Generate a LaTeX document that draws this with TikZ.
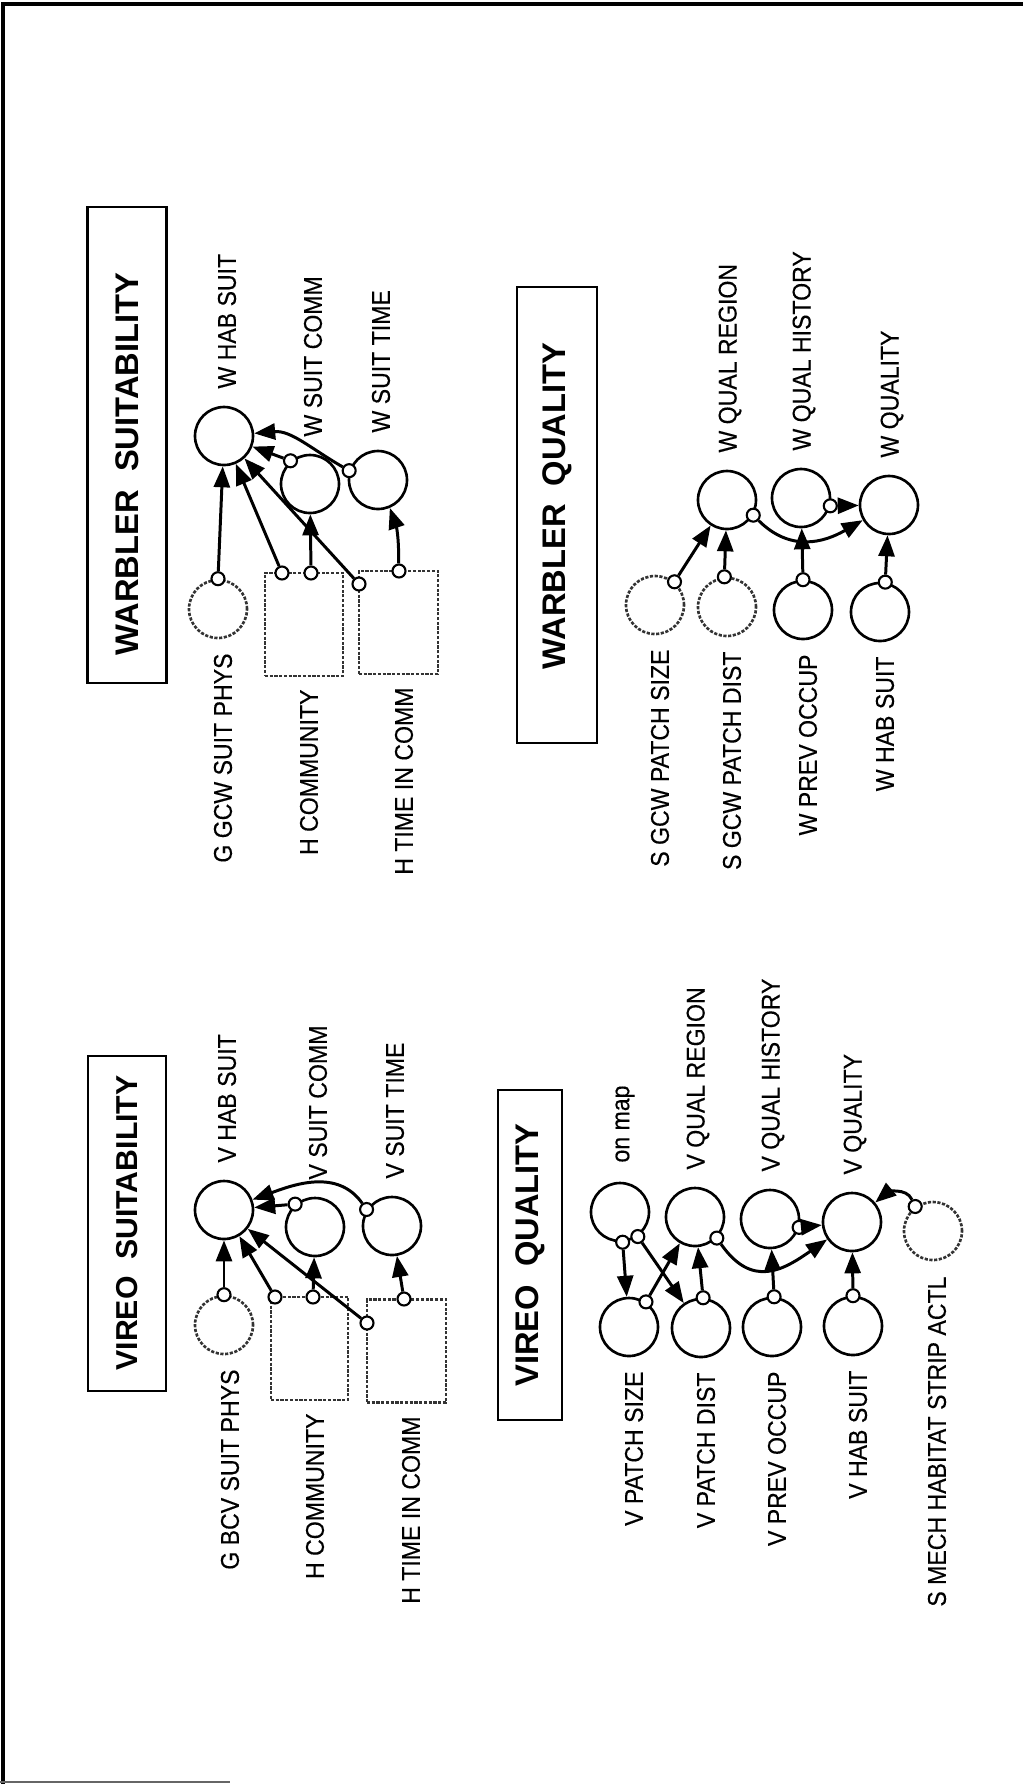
\documentclass[tikz,border=0pt]{standalone}
\usepackage{fontspec}
\setmainfont{Liberation Sans}
\newfontfamily\lblfont{Liberation Sans}[FakeStretch=0.9, FakeBold=0.3]
\usetikzlibrary{arrows.meta}

\begin{document}
\begin{tikzpicture}[
  x=0.1mm, y=-0.1mm,
  every node/.style={inner sep=0pt},
  ttlbox/.style={draw, line width=0.8pt, rotate=90},
  ttltext/.style={rotate=90, font=\bfseries\fontsize{9.3}{11}\selectfont},
  lbl/.style={rotate=90, font=\lblfont\fontsize{7.3}{8}\selectfont},
  var/.style={circle, draw, line width=0.75pt, minimum size=5.8mm},
  inp/.style={var, draw=black!80, dash pattern=on 0.9pt off 0.45pt},
  hbox/.style={draw=black!80, dash pattern=on 0.9pt off 0.45pt, line width=0.7pt, minimum width=7.8mm, minimum height=10.3mm},
  port/.style={circle, draw, fill=white, line width=0.6pt, minimum size=1.3mm},
  >={Triangle[length=2.1mm,width=1.6mm]}, line width=0.85pt
]
\useasboundingbox (0,0) rectangle (1023,1784);

% page frame
\draw[line width=1pt] (3,1784) -- (3,4) -- (1023,4);
\draw[black!60, line width=0.8pt] (0,1782) -- (230,1782);

% warbler suitability
\node[ttlbox, minimum width=47.6mm, minimum height=7.9mm] (ttl_ws) at (127,445) {};
\node[ttltext] (ttl_ws_t) at (127,464) {WARBLER~~SUITABILITY};
\node[var] (whs) at (224,436) {};
\node[var] (wsc) at (310,484) {};
\node[var] (wst) at (378,480) {};
\node[inp] (ggcw) at (218,609) {};
\node[hbox] (hcw) at (304,624.5) {};
\node[hbox, minimum width=7.9mm] (htw) at (398.5,622.5) {};

\node[lbl, anchor=west] (l_whs) at (227,390) {W HAB SUIT};
\node[lbl, anchor=west] (l_wsc) at (313,438) {W SUIT COMM};
\node[lbl, anchor=west] (l_wst) at (381,434) {W SUIT TIME};
\node[lbl, anchor=east] (l_ggcw) at (223,652) {G GCW SUIT PHYS};
\node[lbl, anchor=east] (l_hcw) at (309,688) {H COMMUNITY};
\node[lbl, anchor=east] (l_htw) at (404,686) {H TIME IN COMM};

\node[port] (p_ggcw) at (ggcw.90) {};
\node[port] (p_hcw1) at (282,573) {};
\node[port] (p_hcw2) at (311,573) {};
\node[port] (p_htw1) at (359,584) {};
\node[port] (p_htw2) at (399,571) {};
\node[port] (p_wsc) at (wsc.130) {};
\node[port] (p_wst) at (wst.162) {};

\draw[->] (p_ggcw) -- (whs);
\draw[->] (p_hcw1) -- (whs);
\draw[->] (p_htw1) -- (whs);
\draw[->] (p_hcw2) -- (wsc);
\draw[->] (p_htw2) to[bend right=10] (wst);
\draw[->] (p_wsc) -- (whs);
\draw[->] (p_wst) to[out=150, in=5] (whs);

% vireo suitability
\node[ttlbox, minimum width=33.5mm, minimum height=7.8mm] (ttl_vs) at (127,1223.5) {};
\node[ttltext, font=\bfseries\fontsize{8.6}{10}\selectfont] (ttl_vs_t) at (127,1223) {VIREO~~SUITABILITY};
\node[var] (vhs) at (224,1210) {};
\node[var] (vsc) at (315,1227) {};
\node[var] (vst) at (392,1226) {};
\node[inp] (gbcv) at (224,1325) {};
\node[hbox, minimum width=7.7mm] (hcv) at (309.5,1348.5) {};
\node[hbox, minimum width=7.9mm] (htv) at (406.5,1351) {};

\node[lbl, anchor=west] (l_vhs) at (227,1164) {V HAB SUIT};
\node[lbl, anchor=west] (l_vsc) at (318,1181) {V SUIT COMM};
\node[lbl, anchor=west] (l_vst) at (395,1180) {V SUIT TIME};
\node[lbl, anchor=east] (l_gbcv) at (230,1368) {G BCV SUIT PHYS};
\node[lbl, anchor=east] (l_hcv) at (315,1412) {H COMMUNITY};
\node[lbl, anchor=east] (l_htv) at (411,1415) {H TIME IN COMM};

\node[port] (p_gbcv) at (gbcv.90) {};
\node[port] (p_hcv1) at (275,1297) {};
\node[port] (p_hcv2) at (313,1297) {};
\node[port] (p_htv1) at (367,1323) {};
\node[port] (p_htv2) at (404,1299) {};
\node[port] (p_vsc) at (vsc.131) {};
\node[port] (p_vst) at (vst.147) {};

\draw[->] (p_gbcv) -- (vhs);
\draw[->] (p_hcv1) -- (vhs);
\draw[->] (p_htv1) -- (vhs);
\draw[->] (p_hcv2) -- (vsc);
\draw[->] (p_htv2) -- (vst);
\draw[->] (p_vsc) -- (vhs);
\draw[->] (p_vst) to[out=125, in=20] (vhs);

% warbler quality
\node[ttlbox, minimum width=45.6mm, minimum height=8mm] (ttl_wq) at (557,515) {};
\node[ttltext] (ttl_wq_t) at (557,506) {WARBLER~~QUALITY};
\node[var] (wqr) at (727,500) {};
\node[var] (wqh) at (801,498) {};
\node[var] (wq) at (889,505) {};
\node[inp] (sgps) at (655,605) {};
\node[inp] (sgpd) at (727,607) {};
\node[var] (wpo) at (803,610) {};
\node[var] (whsq) at (880,612) {};

\node[lbl, anchor=west] (l_wqr) at (730,454) {W QUAL REGION};
\node[lbl, anchor=west] (l_wqh) at (804,452) {W QUAL HISTORY};
\node[lbl, anchor=west] (l_wq) at (892,459) {W QUALITY};
\node[lbl, anchor=east] (l_sgps) at (660,648) {S GCW PATCH SIZE};
\node[lbl, anchor=east] (l_sgpd) at (732,650) {S GCW PATCH DIST};
\node[lbl, anchor=east] (l_wpo) at (808,653) {W PREV OCCUP};
\node[lbl, anchor=east] (l_whsq) at (885,655) {W HAB SUIT};

\node[port] (p_sgps) at (sgps.50) {};
\node[port] (p_sgpd) at (sgpd.95) {};
\node[port] (p_wpo) at (wpo.90) {};
\node[port] (p_whsq) at (whsq.80) {};
\node[port] (p_wqr) at (wqr.-30) {};
\node[port] (p_wqh) at (wqh.-15) {};

\draw[->] (p_sgps) -- (wqr);
\draw[->] (p_sgpd) -- (wqr);
\draw[->] (p_wpo) -- (wqh);
\draw[->] (p_whsq) -- (wq);
\draw[->] (p_wqh) -- (wq);
\draw[->] (p_wqr) to[out=-45, in=210, looseness=1.1] (wq);

% vireo quality
\node[ttlbox, minimum width=33mm, minimum height=6.4mm] (ttl_vq) at (530,1255) {};
\node[ttltext] (ttl_vq_t) at (530,1255) {VIREO~~QUALITY};
\node[var] (onmap) at (620,1212) {};
\node[var] (vqr) at (695,1217) {};
\node[var] (vqh) at (770,1219) {};
\node[var] (vq) at (852,1222) {};
\node[inp] (smech) at (933,1231) {};
\node[var] (vps) at (629,1327) {};
\node[var] (vpd) at (701,1328) {};
\node[var] (vpo) at (772,1327) {};
\node[var] (vhsq) at (853,1326) {};

\node[lbl, anchor=west] (l_onmap) at (625,1164) {on map};
\node[lbl, anchor=west] (l_vqr) at (698,1171) {V QUAL REGION};
\node[lbl, anchor=west] (l_vqh) at (773,1173) {V QUAL HISTORY};
\node[lbl, anchor=west] (l_vq) at (855,1176) {V QUALITY};
\node[lbl, anchor=east] (l_vps) at (634,1370) {V PATCH SIZE};
\node[lbl, anchor=east] (l_vpd) at (706,1371) {V PATCH DIST};
\node[lbl, anchor=east] (l_vpo) at (777,1370) {V PREV OCCUP};
\node[lbl, anchor=east] (l_vhsq) at (858,1369) {V HAB SUIT};
\node[lbl, anchor=east] (l_smech) at (937,1275) {S MECH HABITAT STRIP ACTL};

\node[port] (p_om1) at (onmap.-85) {};
\node[port] (p_om2) at (onmap.-54) {};
\node[port] (p_vps) at (vps.56) {};
\node[port] (p_vpd) at (vpd.86) {};
\node[port] (p_vqr) at (vqr.-44) {};
\node[port] (p_vqh) at (vqh.-16) {};
\node[port] (p_vpo) at (vpo.86) {};
\node[port] (p_vhsq) at (vhsq.90) {};
\node[port] (p_smech) at (smech.126) {};

\draw[->] (p_om1) -- (vps);
\draw[->] (p_om2) -- (vpd);
\draw[->] (p_vps) -- (vqr);
\draw[->] (p_vpd) -- (vqr);
\draw[->] (p_vpo) -- (vqh);
\draw[->] (p_vhsq) -- (vq);
\draw[->] (p_vqh) -- (vq);
\draw[->] (p_vqr) to[out=-55, in=215, looseness=1.3] (vq);
\draw[->] (p_smech) to[out=115, in=40] (vq);

\end{tikzpicture}
\end{document}
